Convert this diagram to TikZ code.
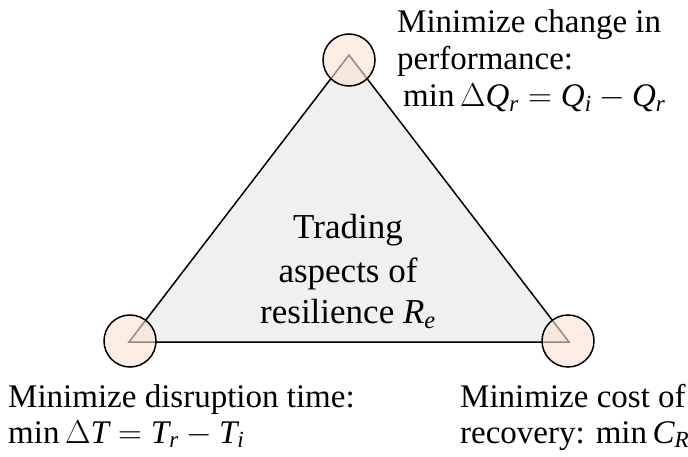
\RequirePackage{fix-cm}
\documentclass[tikz,border=0pt]{standalone}
\usepackage{fontspec}
\setmainfont{Liberation Serif}[NFSSFamily=libser]
% italic math letters taken from the text face
\DeclareSymbolFont{itletters}{TU}{libser}{m}{it}
\DeclareMathSymbol{Q}{\mathalpha}{itletters}{`Q}
\DeclareMathSymbol{T}{\mathalpha}{itletters}{`T}
\DeclareMathSymbol{C}{\mathalpha}{itletters}{`C}
\DeclareMathSymbol{R}{\mathalpha}{itletters}{`R}
\DeclareMathSymbol{r}{\mathalpha}{itletters}{`r}
\DeclareMathSymbol{i}{\mathalpha}{itletters}{`i}
\DeclareMathSymbol{e}{\mathalpha}{itletters}{`e}
\definecolor{trifill}{HTML}{F0F0F0}
\definecolor{peach}{HTML}{FBE3D3}
\tikzset{
  edge/.style={draw=black, line width=1.5pt, line join=miter},
  vertexmark/.style={circle, draw=black, line width=1.5pt, fill=peach,
    fill opacity=0.6, draw opacity=1, minimum size=52pt, inner sep=0pt},
  outer/.style={anchor=base west, inner sep=0pt, font=\fontsize{33}{37}\selectfont},
  inner/.style={anchor=base, inner sep=0pt, font=\fontsize{35}{42}\selectfont}
}
\begin{document}
\begin{tikzpicture}[x=1pt,y=-1pt]
\useasboundingbox (0,0) rectangle (688,457);
% corners of the trade-off triangle
\coordinate (P) at (349,55);
\coordinate (T) at (129,342);
\coordinate (C) at (569,342);
\path[edge, fill=trifill] (P) -- (C) -- (T) -- cycle;
% highlighted corners
\node[vertexmark] (cP) at (349,60) {};
\node[vertexmark] (cT) at (130,341) {};
\node[vertexmark] (cC) at (568,341) {};
% centre label
\node[inner] (m1) at (348,239) {Trading};
\node[inner] (m2) at (348,282) {aspects of};
\node[inner] (m3) at (348,323) {resilience $R_e$};
% performance corner
\node[outer] (p1) at (397,33) {Minimize change in};
\node[outer] (p2) at (397,70) {performance:};
\node[outer] (p3) at (403,107) {$\min \Delta Q_r = Q_i - Q_r$};
% time corner
\node[outer] (t1) at (8,407) {Minimize disruption time:};
\node[outer] (t2) at (8,443) {$\min \Delta T = T_r - T_i$};
% cost corner
\node[outer] (k1) at (460,407) {Minimize cost of};
\node[outer] (k2) at (460,443) {recovery: $\min C_R$};
\end{tikzpicture}
\end{document}
